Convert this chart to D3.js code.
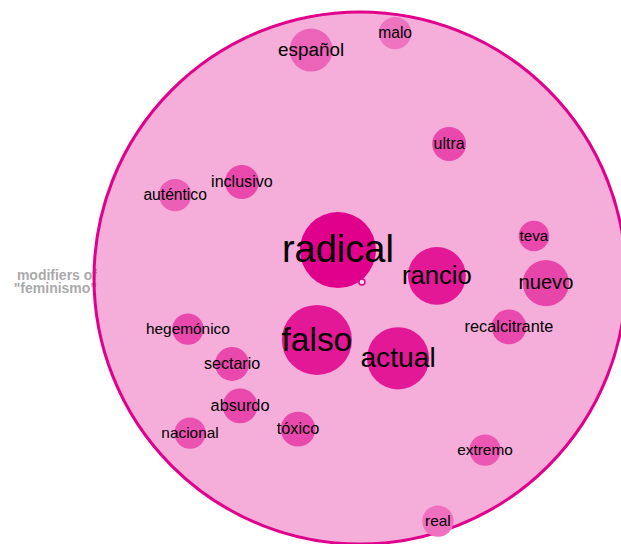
<!DOCTYPE html>
<html>
<head>
<meta charset="utf-8">
<script src="https://cdn.jsdelivr.net/npm/d3@7"></script>
<style>
  html, body { margin: 0; padding: 0; background: #fff; }
  svg { display: block; }
  .word { font-family: "Helvetica Neue", Helvetica, Arial, "Liberation Sans", sans-serif; fill: #000; }
  .title { font-family: "Helvetica Neue", Helvetica, Arial, "Liberation Sans", sans-serif; font-weight: bold; fill: #aaa; font-size: 14px; }
</style>
</head>
<body>
<div id="chart"></div>
<script>
// Modifiers of "feminismo"
const words = ['radical', 'falso', 'actual', 'rancio', 'nuevo', 'español', 'recalcitrante',
    'absurdo', 'tóxico', 'ultra', 'inclusivo', 'sectario', 'auténtico', 'malo',
    'hegemónico', 'nacional', 'extremo', 'real', 'teva'];
// frequency (drives bubble area and label size)
const counts = [100, 85, 67, 58, 37, 32, 21, 21, 21, 20, 20, 20, 18, 18, 17, 17, 17, 17, 16];
// colour intensity
const intensity = [1.0, 0.86, 0.86, 0.86, 0.6, 0.42, 0.58, 0.58, 0.58, 0.58, 0.58, 0.58, 0.45, 0.33, 0.58, 0.52, 0.5, 0.35, 0.58];
// layout coordinates inside the unit circle (from the force layout)
const posX = [-0.083, -0.162, 0.143, 0.289, 0.699, -0.184, 0.560, -0.451, -0.233, 0.335,
    -0.444, -0.481, -0.695, 0.132, -0.647, -0.639, 0.470, 0.293, 0.654];
const posY = [-0.105, 0.233, 0.302, -0.008, 0.019, -0.857, 0.184, 0.481, 0.568, -0.504,
    -0.361, 0.323, -0.312, -0.921, 0.192, 0.583, 0.647, 0.914, -0.158];
const title = ['modifiers of', '"feminismo"'];

const width = 621, height = 544;
const cx = 360, cy = 278, R = 266;
const magenta = '#e0008c';
const bg = 'rgb(245,173,218)';

const svg = d3.select('#chart').append('svg')
    .attr('width', width)
    .attr('height', height);

const x = d3.scaleLinear().domain([-1, 1]).range([cx - R, cx + R]);
const y = d3.scaleLinear().domain([-1, 1]).range([cy - R, cy + R]);
const r = d3.scaleSqrt().domain([0, d3.max(counts)]).range([0, 38]);
const fontSize = d3.scalePow().exponent(1.2).domain([d3.min(counts), d3.max(counts)]).range([15.2, 38]);
const color = d3.scaleLinear().domain([0, 1]).range([bg, magenta]).interpolate(d3.interpolateRgb);

const nodes = words.map((w, i) => ({ word: w, count: counts[i], k: intensity[i], x: posX[i], y: posY[i] }));

// title on the left, partly under the outer ring
svg.append('text')
    .attr('class', 'title')
    .attr('text-anchor', 'end')
    .attr('y', 280)
    .selectAll('tspan')
    .data(title)
    .join('tspan')
    .attr('x', x(-1) + 3)
    .attr('dy', (d, i) => i ? 13 : 0)
    .text(d => d);

// outer circle
svg.append('circle')
    .attr('cx', x(0))
    .attr('cy', y(0))
    .attr('r', x(1) - x(0))
    .attr('fill', magenta)
    .attr('fill-opacity', 0.32)
    .attr('stroke', magenta)
    .attr('stroke-width', 3);

// bubbles
svg.selectAll('.bubble')
    .data(nodes)
    .join('circle')
    .attr('class', 'bubble')
    .attr('cx', d => x(d.x))
    .attr('cy', d => y(d.y))
    .attr('r', d => r(d.count))
    .attr('fill', d => color(d.k));

// centre node
svg.append('circle')
    .attr('cx', x(0.007))
    .attr('cy', y(0.015))
    .attr('r', 3)
    .attr('fill', '#fbe3f1')
    .attr('stroke', magenta)
    .attr('stroke-width', 1.5);

// labels
svg.selectAll('.word')
    .data(nodes)
    .join('text')
    .attr('class', 'word')
    .attr('x', d => x(d.x))
    .attr('y', d => y(d.y))
    .attr('dy', '0.32em')
    .attr('text-anchor', 'middle')
    .style('font-size', d => fontSize(d.count) + 'px')
    .text(d => d.word);
</script>
</body>
</html>
